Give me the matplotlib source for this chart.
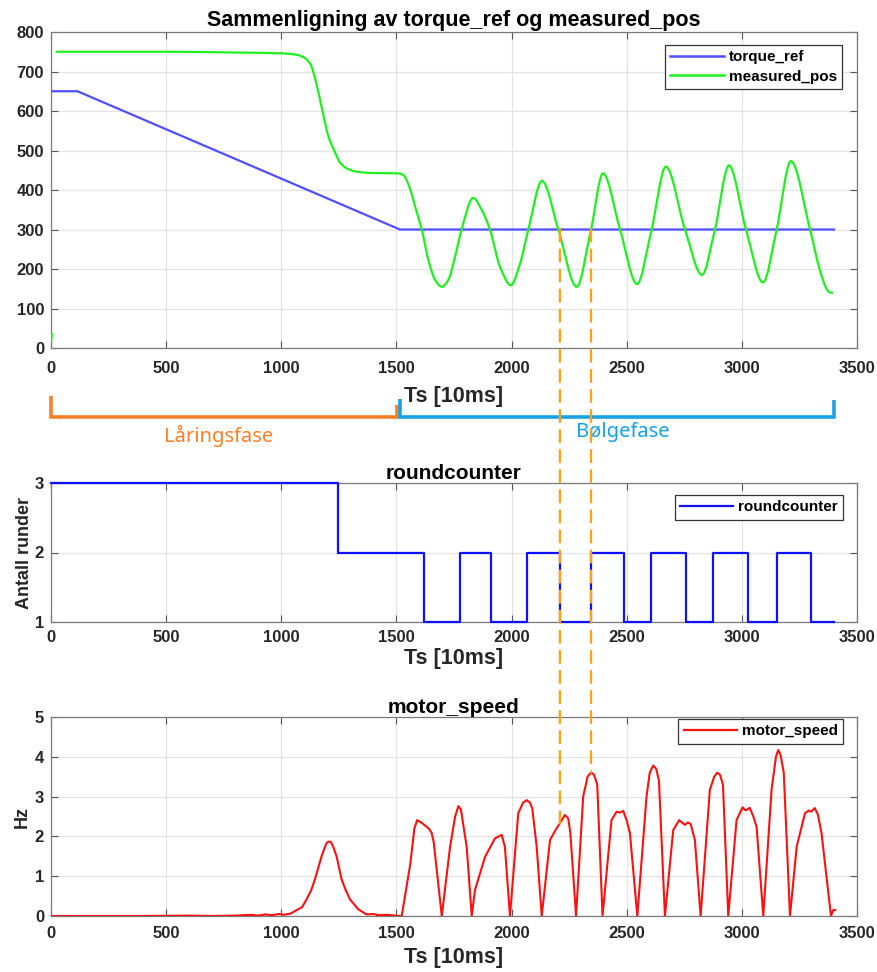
import numpy as np
import matplotlib
matplotlib.use("Agg")
import matplotlib.pyplot as plt
from matplotlib.path import Path
from matplotlib.patches import PathPatch, ConnectionPatch
from matplotlib.lines import Line2D

plt.rcParams["font.family"] = ["Liberation Sans", "DejaVu Sans"]
plt.rcParams["font.weight"] = "bold"

# ---- torque reference (Ts samples, value) ----
torque_t = [0, 115, 1515, 3400]
torque_v = [650, 650, 300, 300]

# ---- measured position (Ts samples, value); NaN separates the start-up blip ----
pos_t = [0, 4, 10,
         20, 500, 800, 1000, 1070, 1100, 1127, 1150, 1178, 1205, 1229, 1257, 1290,
         1330, 1400, 1510, 1530, 1555, 1585, 1610, 1640, 1670, 1697, 1725, 1755,
         1783, 1833, 1870, 1906, 1950, 1997, 2035, 2073, 2132, 2203, 2283, 2345,
         2397, 2471, 2545, 2608, 2670, 2753, 2827, 2883, 2944, 3018, 3092, 3151,
         3213, 3296, 3340, 3370, 3385, 3396]
pos_v = [15, 38, np.nan,
         750, 750, 748, 746, 742, 735, 718, 675, 602, 535, 501, 468, 453,
         446, 443, 442, 438, 410, 350, 300, 220, 170, 155, 172, 232,
         300, 380, 350, 300, 205, 159, 210, 300, 423, 300, 155, 300,
         442, 300, 162, 300, 459, 300, 185, 300, 462, 300, 166, 300,
         473, 300, 195, 148, 140, 140]

# ---- round counter (step changes) ----
round_t = [0, 1246, 1620, 1776, 1911, 2067, 2210, 2345, 2488, 2605, 2757,
           2874, 3026, 3152, 3300, 3400]
round_v = [3, 2, 1, 2, 1, 2, 1, 2, 1, 2, 1, 2, 1, 2, 1, 1]

# ---- motor speed [Hz] ----
speed_t = [0, 200, 400, 600, 700, 800, 870, 900, 930, 960, 990, 1010, 1040,
           1073, 1090, 1110, 1130, 1146, 1175, 1195, 1204, 1215, 1225, 1240,
           1262, 1280, 1298, 1334, 1370, 1400, 1420, 1460, 1515, 1523, 1560,
           1578, 1590, 1610, 1640, 1653, 1662, 1697, 1733, 1755, 1769, 1780,
           1805, 1827, 1841, 1885, 1928, 1957, 1971, 1993, 2029, 2050, 2066,
           2080, 2090, 2109, 2131, 2167, 2195, 2210, 2232, 2246, 2255, 2280,
           2311, 2330, 2345, 2358, 2372, 2395, 2434, 2456, 2470, 2485, 2500,
           2514, 2546, 2586, 2600, 2615, 2628, 2640, 2666, 2702, 2728, 2740,
           2753, 2765, 2778, 2796, 2821, 2861, 2880, 2893, 2905, 2918, 2941,
           2977, 3003, 3015, 3020, 3034, 3050, 3064, 3093, 3129, 3148, 3158,
           3168, 3182, 3209, 3238, 3274, 3290, 3300, 3317, 3330, 3346, 3387,
           3397, 3405]
speed_v = [0, 0, 0, 0.01, 0, 0.01, 0.03, 0.01, 0.04, 0.02, 0.05, 0.03, 0.06,
           0.17, 0.22, 0.42, 0.65, 0.92, 1.5, 1.82, 1.87, 1.86, 1.75, 1.5,
           0.92, 0.65, 0.42, 0.17, 0.04, 0.05, 0.02, 0.03, 0.0, 0.0, 1.3,
           2.2, 2.41, 2.34, 2.2, 2.09, 1.85, 0, 1.74, 2.5, 2.76, 2.68,
           1.74, 0, 0.65, 1.49, 1.95, 2.04, 1.74, 0, 2.58, 2.85, 2.91,
           2.85, 2.7, 1.74, 0, 1.91, 2.2, 2.33, 2.54, 2.45, 2.1, 0,
           3.0, 3.5, 3.61, 3.55, 3.3, 0, 2.41, 2.62, 2.6, 2.64, 2.4,
           2.08, 0, 3.0, 3.6, 3.78, 3.7, 3.4, 0, 2.16, 2.41, 2.35,
           2.29, 2.35, 2.31, 1.91, 0, 3.17, 3.5, 3.6, 3.55, 3.3, 0,
           2.41, 2.73, 2.66, 2.66, 2.72, 2.5, 2.24, 0, 3.17, 4.0, 4.17,
           4.05, 3.6, 0, 1.74, 2.58, 2.65, 2.62, 2.71, 2.55, 2.08, 0,
           0.15, 0.15]

# ---- phase annotation and marker instants ----
phase_names = ["Låringsfase", "Bølgefase"]
phase_spans = [(0, 1502), (1515, 3400)]
marker_t = [2210, 2345]

C_TORQUE = "#4F4FFF"
C_POS = "#1FF01F"
C_ROUND = "#1010FF"
C_SPEED = "#FF1010"
C_ORANGE = "#FF7F27"
C_BLUE = "#17A2E6"
C_DASH = "#FFA21A"
TXT = "#262626"


def pchip_path(x, y):
    """Monotone cubic Hermite curve through the points, as a Bezier path."""
    x = np.asarray(x, float)
    y = np.asarray(y, float)
    n = len(x)
    h = np.diff(x)
    d = np.diff(y) / h
    m = np.zeros(n)
    m[0], m[-1] = d[0], d[-1]
    for k in range(1, n - 1):
        if d[k - 1] * d[k] <= 0:
            m[k] = 0.0
        else:
            w1 = 2 * h[k] + h[k - 1]
            w2 = h[k] + 2 * h[k - 1]
            m[k] = (w1 + w2) / (w1 / d[k - 1] + w2 / d[k])
    verts = [(x[0], y[0])]
    codes = [Path.MOVETO]
    for k in range(n - 1):
        verts += [(x[k] + h[k] / 3, y[k] + m[k] * h[k] / 3),
                  (x[k + 1] - h[k] / 3, y[k + 1] - m[k + 1] * h[k] / 3),
                  (x[k + 1], y[k + 1])]
        codes += [Path.CURVE4] * 3
    return Path(verts, codes)


def style_axes(ax, ylim, yticks, xpad, xlabelpad):
    ax.set_xlim(0, 3500)
    ax.set_xticks(np.arange(0, 3501, 500))
    ax.set_ylim(*ylim)
    ax.set_yticks(yticks)
    ax.grid(True, color="#E3E3E3", linewidth=0.9)
    ax.set_axisbelow(True)
    ax.tick_params(direction="in", top=True, right=True, length=5,
                   width=0.8, colors="#555555", labelcolor=TXT, labelsize=12)
    ax.tick_params(axis="x", pad=xpad)
    ax.tick_params(axis="y", pad=5)
    for lab in ax.get_xticklabels() + ax.get_yticklabels():
        lab.set_fontweight("bold")
    for s in ax.spines.values():
        s.set_color("#7A7A7A")
        s.set_linewidth(0.9)
    ax.set_xlabel("Ts [10ms]", fontsize=15.5, fontweight="bold", color=TXT,
                  labelpad=xlabelpad)


def legend(ax, handles, labels, anchor):
    lg = ax.legend(handles, labels, loc="upper right", bbox_to_anchor=anchor,
                   fancybox=False, framealpha=1, edgecolor="#333333",
                   prop={"weight": "bold", "size": 11}, handlelength=3.5,
                   borderpad=0.35, labelspacing=0.35, handletextpad=0.3,
                   borderaxespad=0)
    lg.get_frame().set_linewidth(0.9)
    return lg


fig = plt.figure(figsize=(8.78, 9.72), dpi=100)
W, H = 878.0, 972.0


def pos_axes(left, top, right, bottom):
    return fig.add_axes([left / W, 1 - bottom / H, (right - left) / W,
                         (bottom - top) / H])


def anchor(ax, right_px, top_px):
    """Legend corner given in figure pixels, returned in axes fraction."""
    inv = ax.transAxes.inverted()
    return tuple(inv.transform((right_px, H - top_px)))


ax1 = pos_axes(51, 32, 857, 348)
ax2 = pos_axes(51, 483, 857, 622)
ax3 = pos_axes(51, 717, 857, 916)

# --- top: torque_ref vs measured_pos ---
ax1.plot(torque_t, torque_v, color=C_TORQUE, lw=1.6, zorder=3)
pt = np.array(pos_t, float)
pv = np.array(pos_v, float)
breaks = np.where(np.isnan(pv))[0]
start = 0
for b in list(breaks) + [len(pv)]:
    seg_t, seg_v = pt[start:b], pv[start:b]
    if len(seg_t) > 1:
        ax1.add_patch(PathPatch(pchip_path(seg_t, seg_v), fill=False,
                                edgecolor=C_POS, lw=1.6, zorder=4))
    start = b + 1
style_axes(ax1, (0, 800), np.arange(0, 801, 100), 9.5, 7)
ax1.set_title("Sammenligning av torque_ref og measured_pos", fontsize=15.5,
              fontweight="bold", pad=4)
legend(ax1, [Line2D([], [], color=C_TORQUE, lw=1.8),
             Line2D([], [], color=C_POS, lw=1.8)],
       ["torque_ref", "measured_pos"], anchor(ax1, 842, 45))

# --- middle: roundcounter ---
ax2.plot(round_t, round_v, color=C_ROUND, lw=1.6, drawstyle="steps-post",
         zorder=3, clip_on=False)
style_axes(ax2, (1, 3), [1, 2, 3], 6, 2)
ax2.set_title("roundcounter", fontsize=15, fontweight="bold", pad=3)
ax2.set_ylabel("Antall runder", fontsize=13, fontweight="bold", color=TXT,
               labelpad=1)
legend(ax2, [Line2D([], [], color=C_ROUND, lw=1.6)], ["roundcounter"],
       anchor(ax2, 843, 495))

# --- bottom: motor_speed ---
ax3.plot(speed_t, speed_v, color=C_SPEED, lw=1.5, zorder=3)
style_axes(ax3, (0, 5), np.arange(0, 6, 1), 7.5, 4)
ax3.set_title("motor_speed", fontsize=15, fontweight="bold", pad=3)
ax3.set_ylabel("Hz", fontsize=13, fontweight="bold", color=TXT, labelpad=3)
legend(ax3, [Line2D([], [], color=C_SPEED, lw=1.6)], ["motor_speed"],
       anchor(ax3, 843, 719))

# --- phase brackets between the top and middle panels ---
bracket_y = 1 - 417 / H
for (t0, t1), name, col, hl, hr, ty, dx in zip(
        phase_spans, phase_names, [C_ORANGE, C_BLUE],
        [21, 18], [12, 17], [436, 432], [-5, 6]):
    x0 = ax1.transData.transform((t0, 0))[0] / W
    x1 = ax1.transData.transform((t1, 0))[0] / W
    fig.add_artist(Line2D([x0, x0, x1, x1],
                          [bracket_y + hl / H, bracket_y, bracket_y,
                           bracket_y + hr / H],
                          color=col, lw=2.6, solid_capstyle="butt",
                          solid_joinstyle="miter"))
    fig.text((x0 + x1) / 2 + dx / W, 1 - ty / H, name, color=col,
             fontsize=14.5, fontweight="normal",
             family=["Noto Sans", "DejaVu Sans"], ha="center", va="center")

# --- dashed marker lines from torque_ref level down to motor_speed ---
for t in marker_t:
    y_top = float(np.interp(t, torque_t, torque_v))
    y_bot = float(np.interp(t, speed_t, speed_v))
    cp = ConnectionPatch(xyA=(t, y_top), coordsA=ax1.transData,
                         xyB=(t, y_bot), coordsB=ax3.transData,
                         color=C_DASH, lw=1.7, linestyle=(0, (5, 3.5)),
                         zorder=10)
    fig.add_artist(cp)

fig.savefig("out.png", dpi=100)
